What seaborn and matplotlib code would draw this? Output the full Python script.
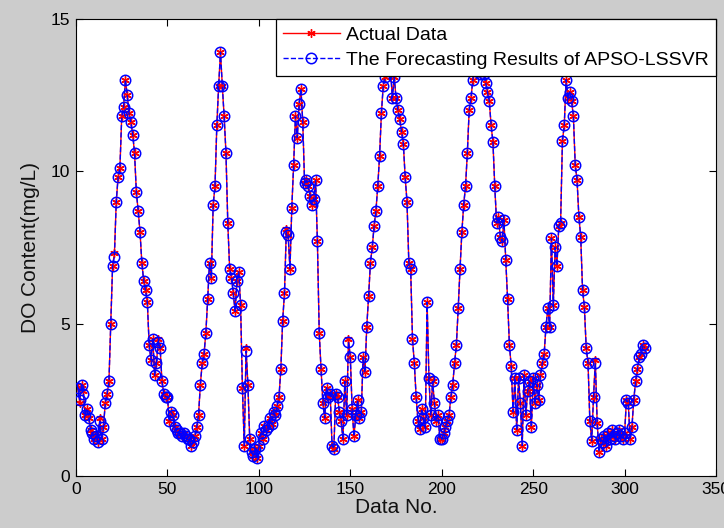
import matplotlib
matplotlib.use("Agg")
import matplotlib.pyplot as plt
from matplotlib import font_manager
import seaborn as sns
import pandas as pd

actual = [
    2.9, 2.4, 3.0, 2.8, 2.0, 2.2, 1.9, 1.5, 1.4, 1.2,
    1.3, 1.1, 1.9, 1.2, 1.6, 2.4, 2.7, 3.1, 5.0, 6.9,
    7.3, 9.0, 9.8, 10.1, 11.8, 12.1, 13.0, 12.5, 11.9, 11.6,
    11.2, 10.6, 9.3, 8.7, 8.0, 7.0, 6.4, 6.1, 5.7, 4.3,
    3.8, 4.5, 3.3, 3.7, 4.5, 4.2, 3.1, 2.7, 2.6, 2.6,
    1.8, 2.1, 2.0, 1.6, 1.5, 1.4, 1.4, 1.3, 1.4, 1.3,
    1.2, 1.2, 1.0, 1.1, 1.3, 1.6, 2.0, 3.0, 3.7, 4.0,
    4.7, 5.8, 7.0, 6.5, 8.9, 9.5, 11.5, 12.8, 13.9, 12.8,
    11.8, 10.6, 8.3, 6.8, 6.5, 6.0, 5.4, 6.4, 6.7, 5.6,
    2.9, 1.0, 4.2, 3.0, 1.2, 0.8, 0.65, 0.9, 0.6, 1.0,
    1.4, 1.2, 1.65, 1.5, 1.6, 1.9, 1.7, 2.1, 2.0, 2.3,
    2.6, 3.5, 5.1, 6.0, 8.1, 7.9, 6.8, 8.8, 10.2, 11.8,
    11.1, 12.2, 12.7, 11.6, 9.6, 9.7, 9.5, 9.2, 8.9, 9.1,
    9.7, 7.7, 4.7, 3.5, 2.4, 1.9, 2.9, 2.6, 2.7, 1.0,
    0.9, 2.7, 2.6, 2.1, 1.8, 1.2, 3.1, 2.0, 4.5, 3.9,
    2.2, 1.3, 2.0, 2.5, 1.9, 2.1, 3.9, 3.4, 4.9, 5.9,
    7.0, 7.5, 8.2, 8.7, 9.5, 10.5, 11.9, 12.8, 13.1, 13.6,
    13.5, 13.3, 12.4, 13.1, 12.4, 12.0, 11.7, 11.3, 10.9, 9.8,
    9.0, 7.0, 6.8, 4.5, 3.7, 2.6, 1.8, 1.55, 2.2, 1.9,
    1.6, 5.7, 3.2, 2.0, 3.1, 2.4, 1.8, 2.0, 1.2, 1.2,
    1.4, 1.6, 1.8, 2.0, 2.6, 3.0, 3.7, 4.3, 5.5, 6.8,
    8.0, 8.9, 9.5, 10.6, 12.0, 12.4, 13.0, 13.4, 13.5, 13.3,
    13.2, 13.3, 13.2, 12.9, 12.6, 12.3, 11.5, 10.95, 9.5, 8.3,
    8.5, 7.85, 7.7, 8.4, 7.1, 5.8, 4.3, 3.6, 2.1, 3.2,
    1.5, 3.2, 2.4, 1.0, 3.3, 2.0, 2.8, 3.1, 1.6, 3.2,
    2.4, 3.0, 2.5, 3.3, 3.7, 4.0, 4.9, 5.5, 4.9, 7.8,
    5.6, 7.5, 6.9, 8.2, 8.3, 11.0, 11.5, 13.0, 12.4, 12.6,
    12.3, 11.8, 10.2, 9.7, 8.5, 7.85, 6.1, 5.55, 4.2, 3.7,
    1.8, 1.15, 2.6, 3.8, 1.75, 0.8, 1.2, 1.1, 1.3, 1.0,
    1.4, 1.2, 1.5, 1.3, 1.2, 1.4, 1.5, 1.3, 1.2, 1.4,
    2.5, 2.4, 1.2, 1.6, 2.5, 3.1, 3.5, 3.9, 4.0, 4.3,
    4.2,
]

forecast = [
    2.9, 2.5, 3.0, 2.7, 2.0, 2.2, 1.9, 1.5, 1.4, 1.2,
    1.3, 1.1, 1.8, 1.2, 1.6, 2.4, 2.7, 3.1, 5.0, 6.9,
    7.2, 9.0, 9.8, 10.1, 11.8, 12.1, 13.0, 12.5, 11.9, 11.6,
    11.2, 10.6, 9.3, 8.7, 8.0, 7.0, 6.4, 6.1, 5.7, 4.3,
    3.8, 4.5, 3.3, 3.7, 4.4, 4.2, 3.1, 2.7, 2.6, 2.6,
    1.8, 2.1, 2.0, 1.6, 1.5, 1.4, 1.4, 1.3, 1.4, 1.3,
    1.2, 1.2, 1.0, 1.1, 1.3, 1.6, 2.0, 3.0, 3.7, 4.0,
    4.7, 5.8, 7.0, 6.5, 8.9, 9.5, 11.5, 12.8, 13.9, 12.8,
    11.8, 10.6, 8.3, 6.8, 6.5, 6.0, 5.4, 6.4, 6.7, 5.6,
    2.9, 1.0, 4.1, 3.0, 1.2, 0.8, 0.65, 0.9, 0.6, 1.0,
    1.4, 1.2, 1.65, 1.5, 1.6, 1.9, 1.7, 2.1, 2.0, 2.3,
    2.6, 3.5, 5.1, 6.0, 8.0, 7.9, 6.8, 8.8, 10.2, 11.8,
    11.1, 12.2, 12.7, 11.6, 9.6, 9.7, 9.5, 9.2, 8.9, 9.1,
    9.7, 7.7, 4.7, 3.5, 2.4, 1.9, 2.9, 2.6, 2.7, 1.0,
    0.9, 2.7, 2.6, 2.1, 1.8, 1.2, 3.1, 2.0, 4.4, 3.9,
    2.2, 1.3, 2.0, 2.5, 1.9, 2.1, 3.9, 3.4, 4.9, 5.9,
    7.0, 7.5, 8.2, 8.7, 9.5, 10.5, 11.9, 12.8, 13.1, 13.6,
    13.5, 13.3, 12.4, 13.1, 12.4, 12.0, 11.7, 11.3, 10.9, 9.8,
    9.0, 7.0, 6.8, 4.5, 3.7, 2.6, 1.8, 1.55, 2.2, 1.9,
    1.6, 5.7, 3.2, 2.0, 3.1, 2.4, 1.8, 2.0, 1.2, 1.2,
    1.4, 1.6, 1.8, 2.0, 2.6, 3.0, 3.7, 4.3, 5.5, 6.8,
    8.0, 8.9, 9.5, 10.6, 12.0, 12.4, 13.0, 13.4, 13.5, 13.3,
    13.2, 13.3, 13.2, 12.9, 12.6, 12.3, 11.5, 10.95, 9.5, 8.3,
    8.5, 7.85, 7.7, 8.4, 7.1, 5.8, 4.3, 3.6, 2.1, 3.2,
    1.5, 3.2, 2.4, 1.0, 3.3, 2.0, 2.8, 3.1, 1.6, 3.2,
    2.4, 3.0, 2.5, 3.3, 3.7, 4.0, 4.9, 5.5, 4.9, 7.8,
    5.6, 7.5, 6.9, 8.2, 8.3, 11.0, 11.5, 13.0, 12.4, 12.6,
    12.3, 11.8, 10.2, 9.7, 8.5, 7.85, 6.1, 5.55, 4.2, 3.7,
    1.8, 1.15, 2.6, 3.7, 1.75, 0.8, 1.2, 1.1, 1.3, 1.0,
    1.4, 1.2, 1.5, 1.3, 1.2, 1.4, 1.5, 1.3, 1.2, 1.4,
    2.5, 2.4, 1.2, 1.6, 2.5, 3.1, 3.5, 3.9, 4.0, 4.3,
    4.2,
]

x_ticks = [0, 50, 100, 150, 200, 250, 300, 350]
y_ticks = [0, 5, 10, 15]
label_actual = "Actual Data"
label_forecast = "The Forecasting Results of APSO-LSSVR"

df = pd.DataFrame({
    "n": list(range(1, len(actual) + 1)),
    "actual": actual,
    "forecast": forecast[:len(actual)],
})

plt.rcParams["font.family"] = ["Liberation Sans", "DejaVu Sans"]
installed = {f.name for f in font_manager.fontManager.ttflist}
narrow = "Liberation Sans Narrow" if "Liberation Sans Narrow" in installed else "Liberation Sans"

fig = plt.figure(figsize=(7.24, 5.28), dpi=100)
fig.patch.set_facecolor("#cccccc")
ax = fig.add_axes([0.105, 0.0985, 0.884, 0.866])
ax.set_facecolor("white")

sns.lineplot(data=df, x="n", y="actual", ax=ax, color="red", linewidth=1.0,
             marker=(6, 2, 0), markersize=6, markeredgecolor="red",
             markeredgewidth=1.0, label=label_actual, zorder=2)
sns.lineplot(data=df, x="n", y="forecast", ax=ax, color="blue", linewidth=1.0,
             linestyle="--", dashes=(3, 3), marker="o", markersize=7.5,
             markerfacecolor="none", markeredgecolor="blue", markeredgewidth=1.1,
             label=label_forecast, zorder=3)

ax.set_xlim(0, 350)
ax.set_ylim(0, 15)
ax.set_xticks(x_ticks)
ax.set_yticks(y_ticks)
ax.tick_params(direction="in", top=True, right=True, length=5, width=0.8,
               labelsize=12.5, colors="black", pad=4)
for lab in ax.get_xticklabels() + ax.get_yticklabels():
    lab.set_fontfamily(narrow)
for s in ax.spines.values():
    s.set_color("black")
    s.set_linewidth(0.8)
ax.set_xlabel("Data No.", fontsize=15, labelpad=1, color="#111111")
ax.set_ylabel("DO Content(mg/L)", fontsize=15, labelpad=8, color="#111111")

leg = ax.legend(loc="upper right", bbox_to_anchor=(1.0, 1.0), fontsize=14,
                frameon=True, fancybox=False, framealpha=1.0, edgecolor="black",
                borderaxespad=0.0, handlelength=2.9, handletextpad=0.3,
                borderpad=0.4, labelspacing=0.35)
leg.get_frame().set_linewidth(0.9)
leg.set_zorder(10)

fig.savefig("out.png", dpi=100, facecolor=fig.get_facecolor())
